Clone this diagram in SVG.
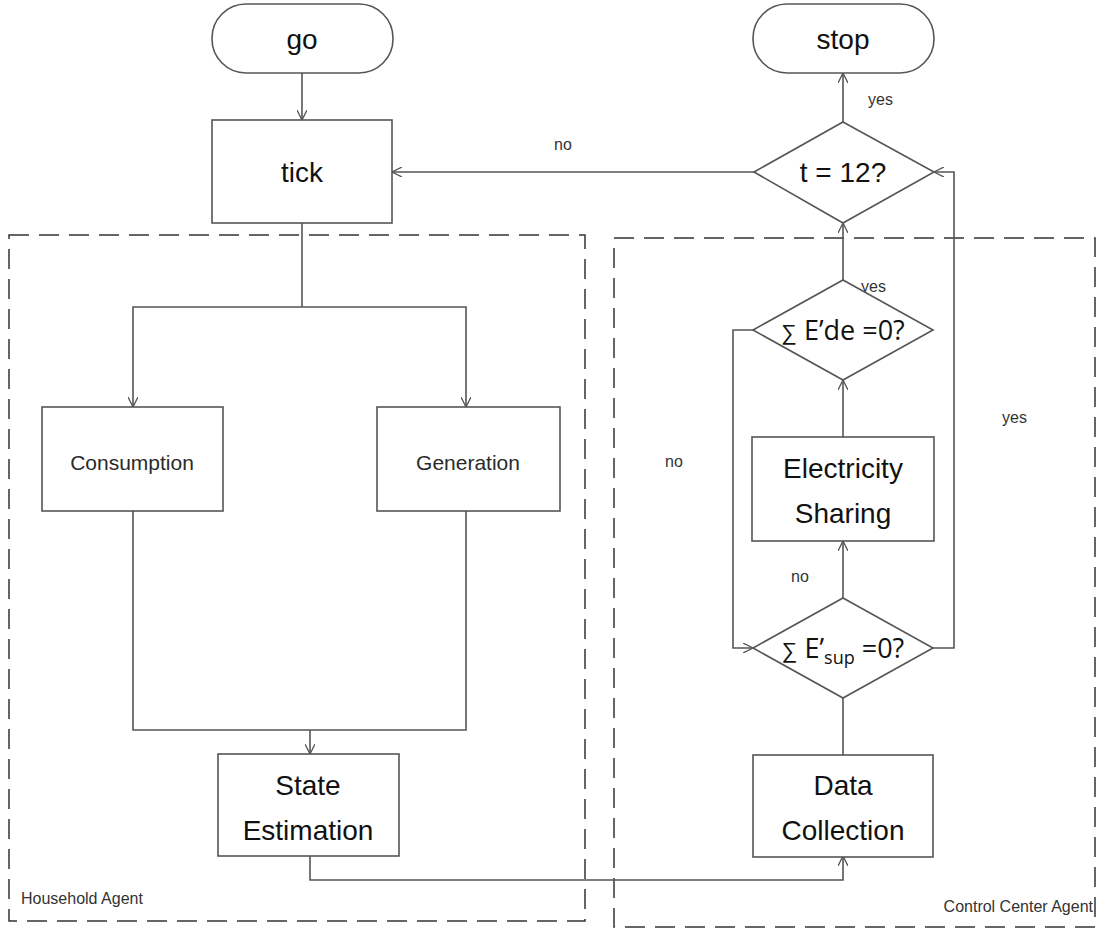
<svg xmlns="http://www.w3.org/2000/svg" width="1107" height="933" viewBox="0 0 1107 933">
  <style>
    .shape { fill: #ffffff; stroke: #555555; stroke-width: 1.6; }
    .line { fill: none; stroke: #555555; stroke-width: 1.6; }
    .zone { fill: none; stroke: #333333; stroke-width: 1.5; stroke-dasharray: 20 10; }
    .big { font-family: "Liberation Sans", Arial, sans-serif; font-size: 28px; fill: #111111; text-anchor: middle; }
    .mid { font-family: "Liberation Sans", Arial, sans-serif; font-size: 21px; fill: #2a2a2a; text-anchor: middle; }
    .cond { font-family: "Open Sans", "Liberation Sans", sans-serif; font-size: 27px; fill: #111111; text-anchor: middle; }
    .lbl { font-family: "Liberation Sans", Arial, sans-serif; font-size: 16px; fill: #333333; }
  </style>
  <defs>
    <marker id="arrow" viewBox="0 0 10 10" refX="10" refY="5" markerWidth="10" markerHeight="10" markerUnits="userSpaceOnUse" orient="auto">
      <path d="M0,0 L10,5 L0,10" fill="none" stroke="#555555" stroke-width="1.3"/>
    </marker>
  </defs>

  <rect width="1107" height="933" fill="#ffffff"/>

  <!-- agent regions -->
  <g id="household-agent">
    <rect class="zone" x="9" y="235" width="576" height="686"/>
    <text class="lbl" x="21" y="904" font-size="17">Household Agent</text>
  </g>
  <g id="control-center-agent">
    <rect class="zone" x="614" y="238" width="481" height="689"/>
    <text class="lbl" x="1093" y="912" font-size="17" text-anchor="end">Control Center Agent</text>
  </g>

  <!-- connectors -->
  <g id="connectors">
    <line class="line" x1="302" y1="73" x2="302" y2="120" marker-end="url(#arrow)"/>
    <polyline class="line" points="302,223 302,307"/>
    <polyline class="line" points="302,307 133,307 133,407" marker-end="url(#arrow)"/>
    <polyline class="line" points="302,307 466,307 466,407" marker-end="url(#arrow)"/>
    <polyline class="line" points="133,511 133,730 466,730 466,511"/>
    <line class="line" x1="310" y1="730" x2="310" y2="754" marker-end="url(#arrow)"/>
    <polyline class="line" points="310,856 310,880 843,880 843,856" marker-end="url(#arrow)"/>
    <line class="line" x1="843" y1="755" x2="843" y2="698"/>
    <line class="line" x1="843" y1="598" x2="843" y2="541" marker-end="url(#arrow)"/>
    <text class="lbl" x="791" y="582">no</text>
    <line class="line" x1="843" y1="437" x2="843" y2="380" marker-end="url(#arrow)"/>
    <polyline class="line" points="753,330 733,330 733,648 753,648" marker-end="url(#arrow)"/>
    <text class="lbl" x="665" y="467">no</text>
    <line class="line" x1="843" y1="280" x2="843" y2="223" marker-end="url(#arrow)"/>
    <text class="lbl" x="861" y="292">yes</text>
    <polyline class="line" points="933,648 954,648 954,172 934,172" marker-end="url(#arrow)"/>
    <text class="lbl" x="1002" y="423">yes</text>
    <line class="line" x1="843" y1="122" x2="843" y2="73" marker-end="url(#arrow)"/>
    <text class="lbl" x="868" y="105">yes</text>
    <line class="line" x1="754" y1="172" x2="392" y2="172" marker-end="url(#arrow)"/>
    <text class="lbl" x="554" y="150">no</text>
  </g>

  <!-- nodes -->
  <g id="go">
    <rect class="shape" x="212" y="4" width="181" height="69" rx="34" ry="34"/>
    <text class="big" x="302" y="49">go</text>
  </g>
  <g id="stop">
    <rect class="shape" x="753" y="4" width="181" height="69" rx="34" ry="34"/>
    <text class="big" x="843" y="49">stop</text>
  </g>
  <g id="tick">
    <rect class="shape" x="212" y="120" width="180" height="103"/>
    <text class="big" x="302" y="182">tick</text>
  </g>
  <g id="consumption">
    <rect class="shape" x="42" y="407" width="181" height="104"/>
    <text class="mid" x="132" y="470">Consumption</text>
  </g>
  <g id="generation">
    <rect class="shape" x="377" y="407" width="183" height="104"/>
    <text class="mid" x="468" y="470">Generation</text>
  </g>
  <g id="state-estimation">
    <rect class="shape" x="218" y="754" width="181" height="102"/>
    <text class="big" x="308" y="795">State</text>
    <text class="big" x="308" y="840">Estimation</text>
  </g>
  <g id="data-collection">
    <rect class="shape" x="753" y="755" width="180" height="102"/>
    <text class="big" x="843" y="795">Data</text>
    <text class="big" x="843" y="840">Collection</text>
  </g>
  <g id="electricity-sharing">
    <rect class="shape" x="752" y="437" width="182" height="104"/>
    <text class="big" x="843" y="478">Electricity</text>
    <text class="big" x="843" y="523">Sharing</text>
  </g>
  <g id="sup-check">
    <polygon class="shape" points="843,598 933,648 843,698 753,648"/>
    <text class="cond" x="843" y="658"><tspan font-size="22" font-family="DejaVu Sans, sans-serif" font-weight="300">∑</tspan> E’<tspan font-size="18" dy="6">sup</tspan><tspan dy="-6"> =0?</tspan></text>
  </g>
  <g id="de-check">
    <polygon class="shape" points="843,280 933,330 843,380 753,330"/>
    <text class="cond" x="843" y="340"><tspan font-size="22" font-family="DejaVu Sans, sans-serif" font-weight="300">∑</tspan> E’de =0?</text>
  </g>
  <g id="time-check">
    <polygon class="shape" points="843,122 934,172 843,223 754,172"/>
    <text class="big" x="843" y="182">t = 12?</text>
  </g>
</svg>
